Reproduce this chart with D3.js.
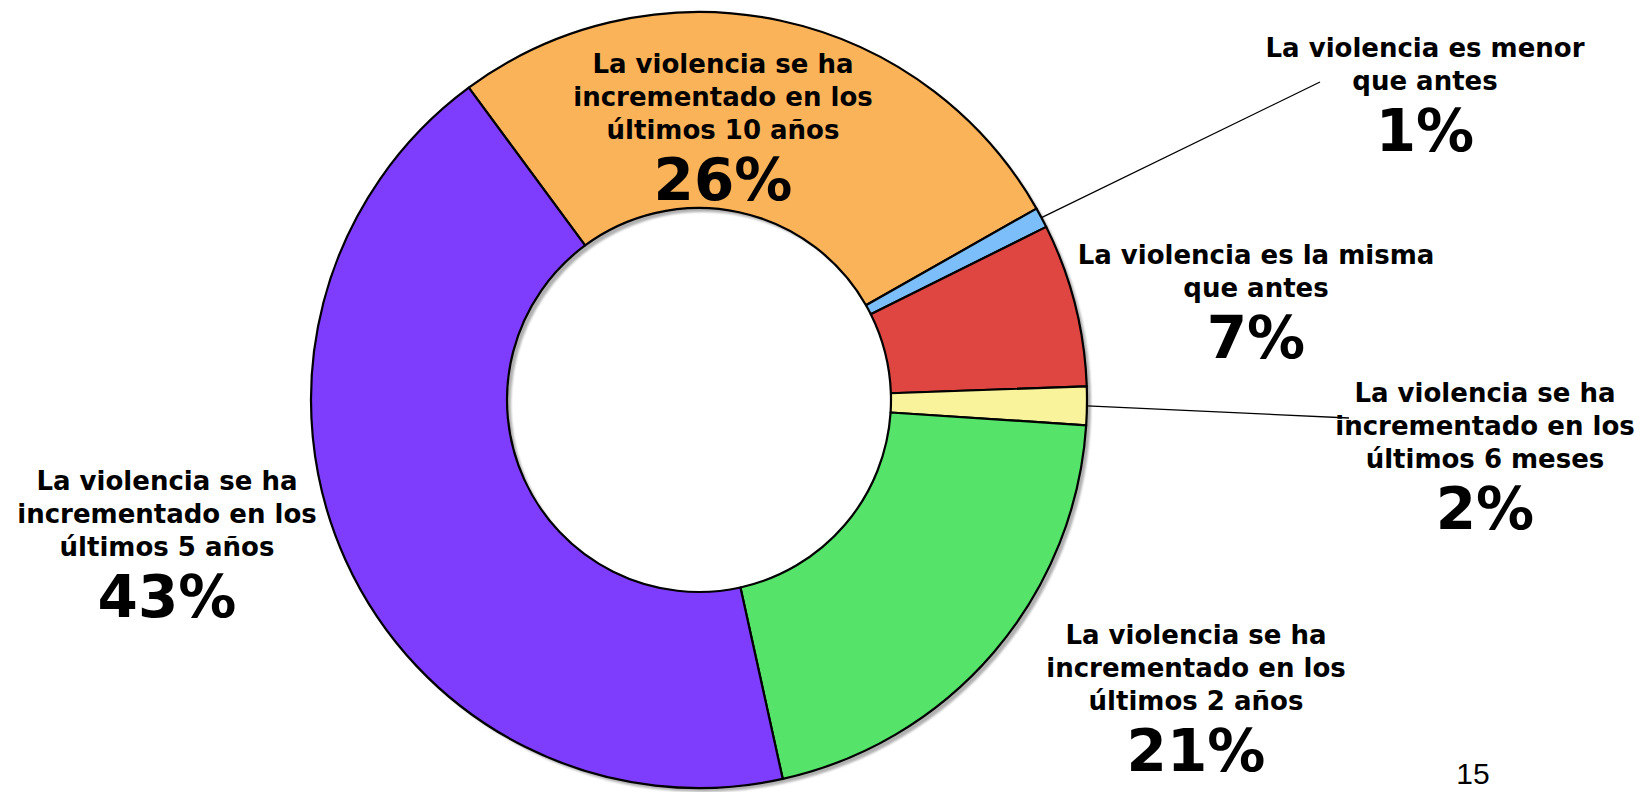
<!DOCTYPE html>
<html>
<head>
<meta charset="utf-8">
<script src="https://cdn.jsdelivr.net/npm/d3@7/dist/d3.min.js"></script>
<style>
  html, body { margin: 0; padding: 0; background: #ffffff; }
  svg { display: block; }
</style>
</head>
<body>
<svg id="chart" width="1640" height="792"></svg>
<script>
// ---- data ----
const categories = [
  "La violencia se ha incrementado en los últimos 10 años",
  "La violencia es menor que antes",
  "La violencia es la misma que antes",
  "La violencia se ha incrementado en los últimos 6 meses",
  "La violencia se ha incrementado en los últimos 2 años",
  "La violencia se ha incrementado en los últimos 5 años"
];
const labelLines = [
  ["La violencia se ha", "incrementado en los", "últimos 10 años"],
  ["La violencia es menor", "que antes"],
  ["La violencia es la misma", "que antes"],
  ["La violencia se ha", "incrementado en los", "últimos 6 meses"],
  ["La violencia se ha", "incrementado en los", "últimos 2 años"],
  ["La violencia se ha", "incrementado en los", "últimos 5 años"]
];
// slice shares (angles), percent labels as printed
const shares = [26.9, 0.85, 6.8, 1.6, 20.5, 43.35];
const percentLabels = ["26%", "1%", "7%", "2%", "21%", "43%"];
const pageNumber = "15";

// ---- styles / layout ----
const colors = ["#FBB35A", "#7BBEFA", "#DF4642", "#F9F39C", "#55E36A", "#7E3CFD"];
const cx = 699, cy = 400, R = 388, r = 192;
const startDeg = -36.4;
// label anchor (center x, first line center y) and leader end
const labelLayout = [
  { x: 723, y: 64,  leader: null },
  { x: 1425, y: 48, leader: [1320, 82] },
  { x: 1256, y: 255, leader: null },
  { x: 1485, y: 393, leader: [1349, 418] },
  { x: 1196, y: 635, leader: null },
  { x: 167, y: 481, leader: null }
];
const lineGap = 33;
const pctGap = 49;

const svg = d3.select("#chart");
const defs = svg.append("defs");
const blur = defs.append("filter").attr("id", "shadowBlur")
  .attr("x", "-10%").attr("y", "-10%").attr("width", "120%").attr("height", "120%");
blur.append("feGaussianBlur").attr("stdDeviation", 1.2);

const pie = d3.pie().sort(null).value(d => d)
  .startAngle(startDeg * Math.PI / 180)
  .endAngle(startDeg * Math.PI / 180 + 2 * Math.PI);
const arcs = pie(shares);
const arc = d3.arc().innerRadius(r).outerRadius(R);

// shadow
svg.append("g")
  .attr("transform", `translate(${cx + 4},${cy + 4})`)
  .attr("filter", "url(#shadowBlur)")
  .selectAll("path").data(arcs).join("path")
  .attr("d", arc)
  .attr("fill", "#b0b0b0");

// slices
svg.append("g")
  .attr("transform", `translate(${cx},${cy})`)
  .selectAll("path").data(arcs).join("path")
  .attr("d", arc)
  .attr("fill", (d, i) => colors[i])
  .attr("stroke", "#000")
  .attr("stroke-width", 2.2)
  .attr("stroke-linejoin", "round");

// leader lines
arcs.forEach((a, i) => {
  const L = labelLayout[i].leader;
  if (!L) return;
  const mid = (a.startAngle + a.endAngle) / 2;
  const x0 = cx + R * Math.sin(mid), y0 = cy - R * Math.cos(mid);
  svg.append("line")
    .attr("x1", x0).attr("y1", y0)
    .attr("x2", L[0]).attr("y2", L[1])
    .attr("stroke", "#000").attr("stroke-width", 1.3);
});

// labels
const font = "'DejaVu Sans', Verdana, sans-serif";
labelLines.forEach((lines, i) => {
  const p = labelLayout[i];
  const g = svg.append("g");
  lines.forEach((t, k) => {
    g.append("text")
      .attr("x", p.x).attr("y", p.y + k * lineGap + 9)
      .attr("text-anchor", "middle")
      .attr("font-family", font).attr("font-weight", "bold")
      .attr("font-size", 26).attr("fill", "#000")
      .text(t);
  });
  g.append("text")
    .attr("x", p.x).attr("y", p.y + (lines.length - 1) * lineGap + pctGap + 21)
    .attr("text-anchor", "middle")
    .attr("font-family", font).attr("font-weight", "bold")
    .attr("font-size", 58).attr("fill", "#000")
    .text(percentLabels[i]);
});

// page number
svg.append("text")
  .attr("x", 1473).attr("y", 784)
  .attr("text-anchor", "middle")
  .attr("font-family", "'Liberation Sans', Arial, sans-serif")
  .attr("font-size", 30).attr("fill", "#000")
  .text(pageNumber);
</script>
</body>
</html>
